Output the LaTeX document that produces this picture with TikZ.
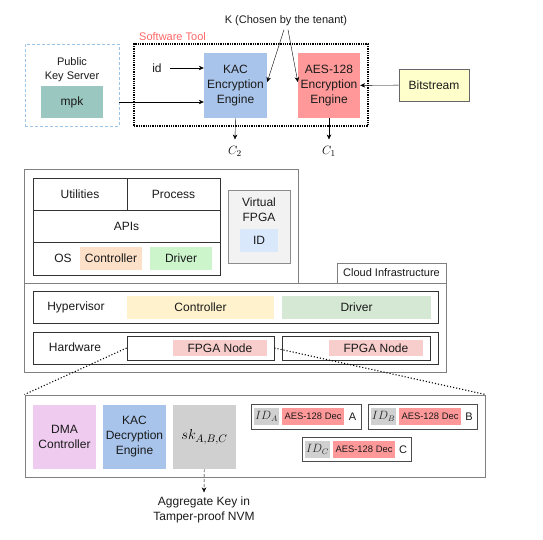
\documentclass[tikz,border=0pt]{standalone}
\usepackage{fontspec}
\setmainfont{Liberation Sans}
\usetikzlibrary{arrows.meta}

\definecolor{kacblue}{HTML}{A9C4EB}
\definecolor{aesred}{HTML}{FF9999}
\definecolor{mpkgreen}{HTML}{9AC7BF}
\definecolor{bityellow}{HTML}{FFFFCC}
\definecolor{swred}{HTML}{FF6666}
\definecolor{pksblue}{HTML}{9DC3E6}
\definecolor{ospeach}{HTML}{FDE0C8}
\definecolor{osgreen}{HTML}{CCF5CC}
\definecolor{vfgray}{HTML}{F2F2F2}
\definecolor{idblue}{HTML}{DAE8FC}
\definecolor{hypyellow}{HTML}{FFF2CC}
\definecolor{hypgreen}{HTML}{D5E8D4}
\definecolor{fpgapink}{HTML}{F8CECC}
\definecolor{dmapink}{HTML}{EFCBEF}
\definecolor{skgray}{HTML}{D0D0D0}
\definecolor{txt}{HTML}{1A1A1A}

\begin{document}
\begin{tikzpicture}[x=1pt,y=-1pt,
  every node/.style={text=txt,font=\fontsize{12}{15}\selectfont},
  small/.style={font=\fontsize{11}{14}\selectfont},
  tiny/.style={font=\fontsize{9.4}{11}\selectfont},
  blk/.style={inner sep=0pt,align=center},
  outer/.style={draw=black!50,line width=1pt,inner sep=0pt},
  layer/.style={draw=black!80,line width=0.9pt,inner sep=0pt},
  grp/.style={draw=black!70,line width=1pt,inner sep=0pt},
  idbox/.style={blk,fill=skgray,text=black!85,font=\fontsize{11.5}{13}\selectfont,minimum width=25pt,minimum height=17pt},
  >={Stealth[length=5pt,width=4.5pt]}]

\useasboundingbox (0,0) rectangle (543,539);

%% software tool
\node (pks) [draw=pksblue,densely dashed,line width=0.9pt,minimum width=94pt,minimum height=82pt] at (72,85) {};
\node (pkslbl) [small,align=center] at (72,70) {Public\\Key Server};
\node (mpk) [blk,fill=mpkgreen,minimum width=62pt,minimum height=32pt] at (72,102) {mpk};

\node (sw) [draw,densely dotted,line width=1.3pt,minimum width=234pt,minimum height=82pt] at (251,85) {};
\node (swlbl) [small,anchor=west,text=swred,inner sep=0pt] at (139,37) {Software Tool};

\node (kacenc) [blk,fill=kacblue,minimum width=63pt,minimum height=65pt] at (235.5,85.5) {KAC\\Encryption\\Engine};
\node (aesenc) [blk,fill=aesred,minimum width=62pt,minimum height=65pt] at (329,85.5) {AES-128\\Encryption\\Engine};
\node (bit) [blk,fill=bityellow,draw=black!60,line width=0.9pt,minimum width=70pt,minimum height=32pt] at (434,85) {Bitstream};

\node (id) at (157,68) {id};
\node (k) [small] at (286,21) {K (Chosen by the tenant)};
\node (c2) [text=black,font=\fontsize{13}{15}\selectfont] at (235,151) {$C_2$};
\node (c1) [text=black,font=\fontsize{13}{15}\selectfont] at (329,151) {$C_1$};

\draw[->] (id.east) ++(5,0) -- (id.east -| kacenc.west);
\draw[->] (pks.east |- mpk) -- (mpk -| kacenc.west);
\draw[->] (bit) -- (aesenc);
\draw[->] ([xshift=-2pt]k.south) -- ([yshift=3.5pt]kacenc.east);
\draw[->] ([xshift=2pt]k.south) -- ([yshift=3.5pt]aesenc.west);
\draw[->] (kacenc.south) -- ([yshift=3pt]c2.north);
\draw[->] (aesenc.south) -- ([yshift=3pt]c1.north);

%% virtual machine
\node (vm) [outer,minimum width=274pt,minimum height=114pt] at (161,226) {};
\node (util) [layer,minimum width=94pt,minimum height=32pt] at (80,194) {Utilities};
\node (proc) [layer,minimum width=93pt,minimum height=32pt] at (173.5,194) {Process};
\node (apis) [layer,minimum width=187pt,minimum height=32pt] at (126.5,226) {APIs};
\node (os) [layer,minimum width=187pt,minimum height=33pt] at (126.5,258.5) {};
\node (oslbl) at (63,258) {OS};
\node (osctl) [blk,fill=ospeach,minimum width=62pt,minimum height=23pt] at (111,258.5) {Controller};
\node (osdrv) [blk,fill=osgreen,minimum width=62pt,minimum height=23pt] at (181,258.5) {Driver};

\node (vf) [draw=black!45,fill=vfgray,line width=0.9pt,minimum width=62pt,minimum height=73pt] at (259,226.5) {};
\node (vflbl) [align=center] at (259,209.5) {Virtual\\FPGA};
\node (vid) [blk,fill=idblue,minimum width=38pt,minimum height=23pt] at (259,240.5) {ID};

%% cloud infrastructure
\node (cloud) [outer,minimum width=422pt,minimum height=89pt] at (235,327.5) {};
\node (cloudlbl) [small,outer,fill=white,minimum width=109pt,minimum height=20pt] at (391.5,273) {Cloud Infrastructure};

\node (hyp) [layer,minimum width=405pt,minimum height=32pt] at (235.5,307) {};
\node (hyplbl) at (76,307) {Hypervisor};
\node (hypctl) [blk,fill=hypyellow,minimum width=147pt,minimum height=23pt] at (200.5,307.5) {Controller};
\node (hypdrv) [blk,fill=hypgreen,minimum width=149pt,minimum height=23pt] at (356.5,307.5) {Driver};

\node (hw) [layer,minimum width=405pt,minimum height=32pt] at (235.5,348) {};
\node (hwlbl) at (75,347) {Hardware};
\node (fpga1) [layer,minimum width=147pt,minimum height=24pt] at (200.5,348) {};
\node (fpga1lbl) [blk,fill=fpgapink,minimum width=94pt,minimum height=16pt] at (220,348) {FPGA Node};
\node (fpga2) [layer,minimum width=148pt,minimum height=24pt] at (356,348) {};
\node (fpga2lbl) [blk,fill=fpgapink,minimum width=94pt,minimum height=16pt] at (376,348) {FPGA Node};

%% fpga node detail
\node (fpga) [outer,minimum width=460pt,minimum height=82pt] at (255,436) {};
\draw[dotted,line width=1.1pt] (fpga1.west) -- (fpga.north west);
\draw[dotted,line width=1.1pt] (fpga1.east) -- (fpga.north east);

\node (dma) [blk,fill=dmapink,minimum width=63pt,minimum height=64pt] at (64.5,437) {DMA\\Controller};
\node (kacdec) [blk,fill=kacblue,minimum width=63pt,minimum height=64pt] at (134.5,437) {KAC\\Decryption\\Engine};
\node (sk) [blk,fill=skgray,minimum width=63pt,minimum height=64pt,text=black,font=\fontsize{15}{18}\selectfont] at (204.5,437) {$sk_{A,B,C}$};

\node (ga) [grp,minimum width=110pt,minimum height=25pt] at (306,416.5) {};
\node (ida) [idbox] at (266.5,416.5) {$ID_A$};
\node (aesa) [blk,tiny,fill=aesred,minimum width=62pt,minimum height=17pt] at (313,416.5) {AES-128 Dec};
\node (la) [small] at (352.5,417) {A};

\node (gb) [grp,minimum width=109pt,minimum height=25pt] at (422.5,416.5) {};
\node (idb) [idbox] at (383.5,416.5) {$ID_B$};
\node (aesb) [blk,tiny,fill=aesred,minimum width=62pt,minimum height=17pt] at (430,416.5) {AES-128 Dec};
\node (lb) [small] at (469,417) {B};

\node (gc) [grp,minimum width=109pt,minimum height=24pt] at (356.5,449) {};
\node (idc) [idbox] at (317.5,449) {$ID_C$};
\node (aesc) [blk,tiny,fill=aesred,minimum width=62pt,minimum height=17pt] at (364,449) {AES-128 Dec};
\node (lc) [small] at (403,449.5) {C};

\node (nvm) [align=center] at (204,510) {Aggregate Key in\\Tamper-proof NVM};
\draw[->,densely dashed] (sk) -- ([yshift=1pt]nvm.north);

\end{tikzpicture}
\end{document}
